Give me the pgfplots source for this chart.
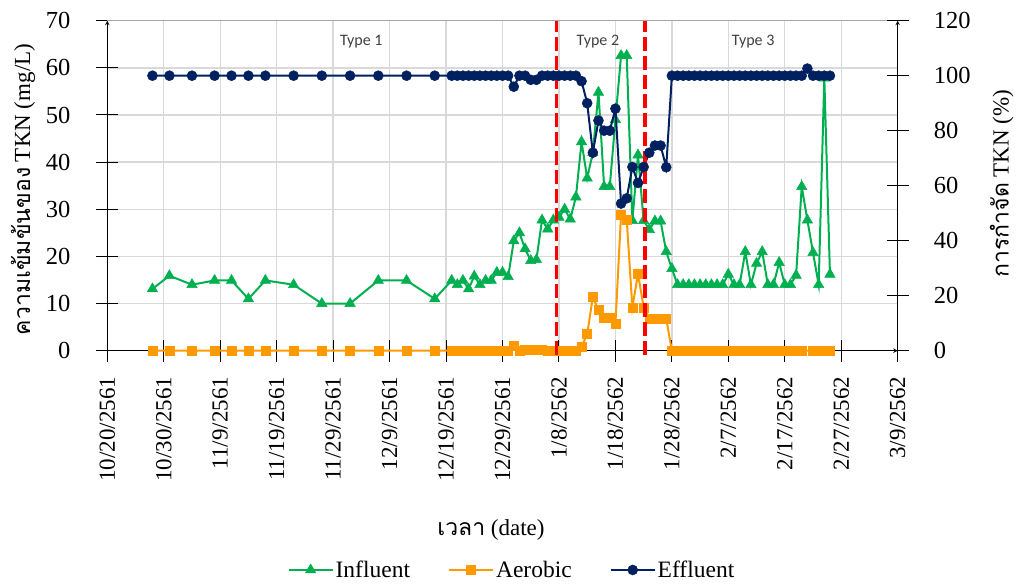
\documentclass[border=0pt]{standalone}
\usepackage{pgfplots}
\pgfplotsset{compat=1.18}
\usepackage{fontspec}
\setmainfont{Liberation Serif}
\newfontfamily\thaifont[Script=Thai]{Loma}
\newfontfamily\calibri{Carlito}
\definecolor{infl}{HTML}{00B050}
\definecolor{aero}{HTML}{FF9900}
\definecolor{effl}{HTML}{002060}
\definecolor{gridc}{HTML}{D9D9D9}
\definecolor{txtc}{HTML}{404040}
\begin{document}
\begin{tikzpicture}
\useasboundingbox (0,0) rectangle (1019pt,585pt);
\pgfplotsset{
  base/.style={
    at={(107.3pt,234.3pt)}, anchor=south west,
    scale only axis, width=790.4pt, height=330pt,
    xmin=0, xmax=140,
    tick align=center, major tick length=22pt,
    every tick/.style={black, line width=1pt},
    /pgf/number format/assume math mode=true,
    tick label style={font=\fontsize{23}{23}\selectfont},
    y tick label style={font=\fontsize{24.5}{24.5}\selectfont},
    axis line style={-, black, line width=1pt},
    xtick={0,10,...,140},
  }
}
\begin{axis}[base,
  ymin=0, ymax=70, ytick={0,10,...,70},
  xticklabels={10/20/2561,10/30/2561,11/9/2561,11/19/2561,11/29/2561,12/9/2561,12/19/2561,12/29/2561,1/8/2562,1/18/2562,1/28/2562,2/7/2562,2/17/2562,2/27/2562,3/9/2562},
  axis x line=bottom, axis y line=left,
  grid=major, grid style={gridc, line width=1.4pt},
  x tick label style={yshift=-15pt, rotate=90, anchor=east, inner sep=0pt},
  y tick label style={inner sep=0pt, xshift=-25.6pt},
  clip=false,
]
\addplot[gray!70, line width=1.5pt, forget plot] coordinates {(0,70) (140,70)};
\addplot[infl, line width=2pt, mark=triangle*, mark size=6pt, mark options={solid, line width=0.5pt}] coordinates {
(8,13.1)(11,15.9)(15,14)(19,14.9)(22,14.9)(25,11)(28,14.9)(33,14)(38,10)(43,10)(48,14.9)(53,14.9)(58,11)
(61,14.9)(62,14)(63,14.9)(64,13.1)(65,15.8)(66,14)(67,14.9)(68,14.9)(69,16.6)(70,16.6)(71,15.7)(72,23.3)(73,25)(74,21.6)(75,19.1)(76,19.3)(77,27.7)(78,25.8)(79,27.7)(80,28.3)(81,30)(82,27.9)(83,32.6)(84,44.3)(85,36.6)(86,42)(87,54.8)(88,34.8)(89,34.8)(90,49)(91,62.6)(92,62.6)(93,27.6)(94,41.5)(95,27.6)(96,25.7)(97,27.5)(98,27.5)(99,21)(100,17.4)
(101,14)(102,14)(103,14)(104,14)(105,14)(106,14)(107,14)(108,14)(109,14)(110,16.2)(111,14)(112,14)(113,21)(114,14)(115,18.5)(116,21)(117,14)(118,14)(119,18.7)(120,14)(121,14)(122,16)(123,34.8)(124,27.7)(125,20.8)(126,14)(127,57.8)(128,16.2)
};
\addplot[aero, line width=2pt, mark=square*, mark size=4.5pt, mark options={solid, line width=0.5pt}] coordinates {
(8,0)(11,0)(15,0)(19,0)(22,0)(25,0)(28,0)(33,0)(38,0)(43,0)(48,0)(53,0)(58,0)
(61,0)(62,0)(63,0)(64,0)(65,0)(66,0)(67,0)(68,0)(69,0)(70,0)(71,0)(72,1.0)(73,0)(74,0.2)(75,0.3)(76,0.3)(77,0.2)(78,0)(79,0)(80,0)(81,0)(82,0)(83,0)(84,0.9)(85,3.5)(86,11.4)(87,8.6)(88,6.9)(89,6.9)(90,5.7)(91,28.9)(92,27.8)(93,9.2)(94,16.3)(95,9.2)(96,6.8)(97,6.8)(98,6.8)(99,6.8)
(100,0)(101,0)(102,0)(103,0)(104,0)(105,0)(106,0)(107,0)(108,0)(109,0)(110,0)(111,0)(112,0)(113,0)(114,0)(115,0)(116,0)(117,0)(118,0)(119,0)(120,0)(121,0)(122,0)(123,0)(125,0)(126,0)(127,0)(128,0)
};
\node[font=\calibri\fontsize{16}{16}\selectfont, text=txtc] at (axis cs:45,65.5) {Type 1};
\node[font=\calibri\fontsize{16}{16}\selectfont, text=txtc] at (axis cs:86.9,65.5) {Type 2};
\node[font=\calibri\fontsize{16}{16}\selectfont, text=txtc] at (axis cs:114.4,65.5) {Type 3};
\end{axis}
\begin{axis}[base,
  ymin=0, ymax=120, ytick={0,20,...,120},
  axis y line=right, axis x line=none,
  y tick label style={inner sep=0pt, xshift=25pt},
  clip=false,
  legend style={at={(0.512,-0.6645)}, anchor=center, draw=none, fill=none,
    legend columns=3, font=\fontsize{23.5}{23.5}\selectfont,
    /tikz/every even column/.append style={column sep=36pt},
    nodes={inner sep=2pt}},
  legend image code/.code={\draw[mark repeat=2, mark phase=2] plot coordinates {(0pt,0pt)(22pt,0pt)(44pt,0pt)};},
]
\addlegendimage{infl, line width=2pt, mark=triangle*, mark size=6pt, mark options={solid, line width=0.5pt}}
\addlegendimage{aero, line width=2pt, mark=square*, mark size=4.5pt, mark options={solid, line width=0.5pt}}
\addplot[effl, line width=2pt, mark=*, mark size=5pt, mark options={solid, line width=0.5pt}] coordinates {
(8,100)(11,100)(15,100)(19,100)(22,100)(25,100)(28,100)(33,100)(38,100)(43,100)(48,100)(53,100)(58,100)
(61,100)(62,100)(63,100)(64,100)(65,100)(66,100)(67,100)(68,100)(69,100)(70,100)(71,100)(72,96)(73,100)(74,100)(75,98.5)(76,98.5)(77,100)(78,100)(79,100)(80,100)(81,100)(82,100)(83,100)(84,98)(85,90)(86,72)(87,83.7)(88,80)(89,80)(90,88)(91,53.5)(92,55.4)(93,66.8)(94,61)(95,66.8)(96,72)(97,74.6)(98,74.6)(99,66.7)
(100,100)(101,100)(102,100)(103,100)(104,100)(105,100)(106,100)(107,100)(108,100)(109,100)(110,100)(111,100)(112,100)(113,100)(114,100)(115,100)(116,100)(117,100)(118,100)(119,100)(120,100)(121,100)(122,100)(123,100)(124,102.6)(125,100)(126,100)(127,100)(128,100)
};
\legend{Influent, Aerobic, Effluent}
\addplot[red, line width=3.5pt, dash pattern=on 14pt off 5pt, forget plot] coordinates {(79.6,-1.5) (79.6,120)};
\addplot[red, line width=3.5pt, dash pattern=on 14pt off 5pt, forget plot] coordinates {(95.25,-1.5) (95.25,120)};
\end{axis}
\node[rotate=90, font=\fontsize{23}{23}\selectfont] at (23pt,395.5pt) {{\thaifont ความเข้มข้นของ} TKN (mg/L)};
\node[rotate=90, font=\fontsize{23}{23}\selectfont] at (1001.7pt,401.5pt) {{\thaifont การกำจัด} TKN (\%)};
\node[font=\fontsize{23}{23}\selectfont] at (491pt,55pt) {{\thaifont เวลา} (date)};
\end{tikzpicture}
\end{document}
